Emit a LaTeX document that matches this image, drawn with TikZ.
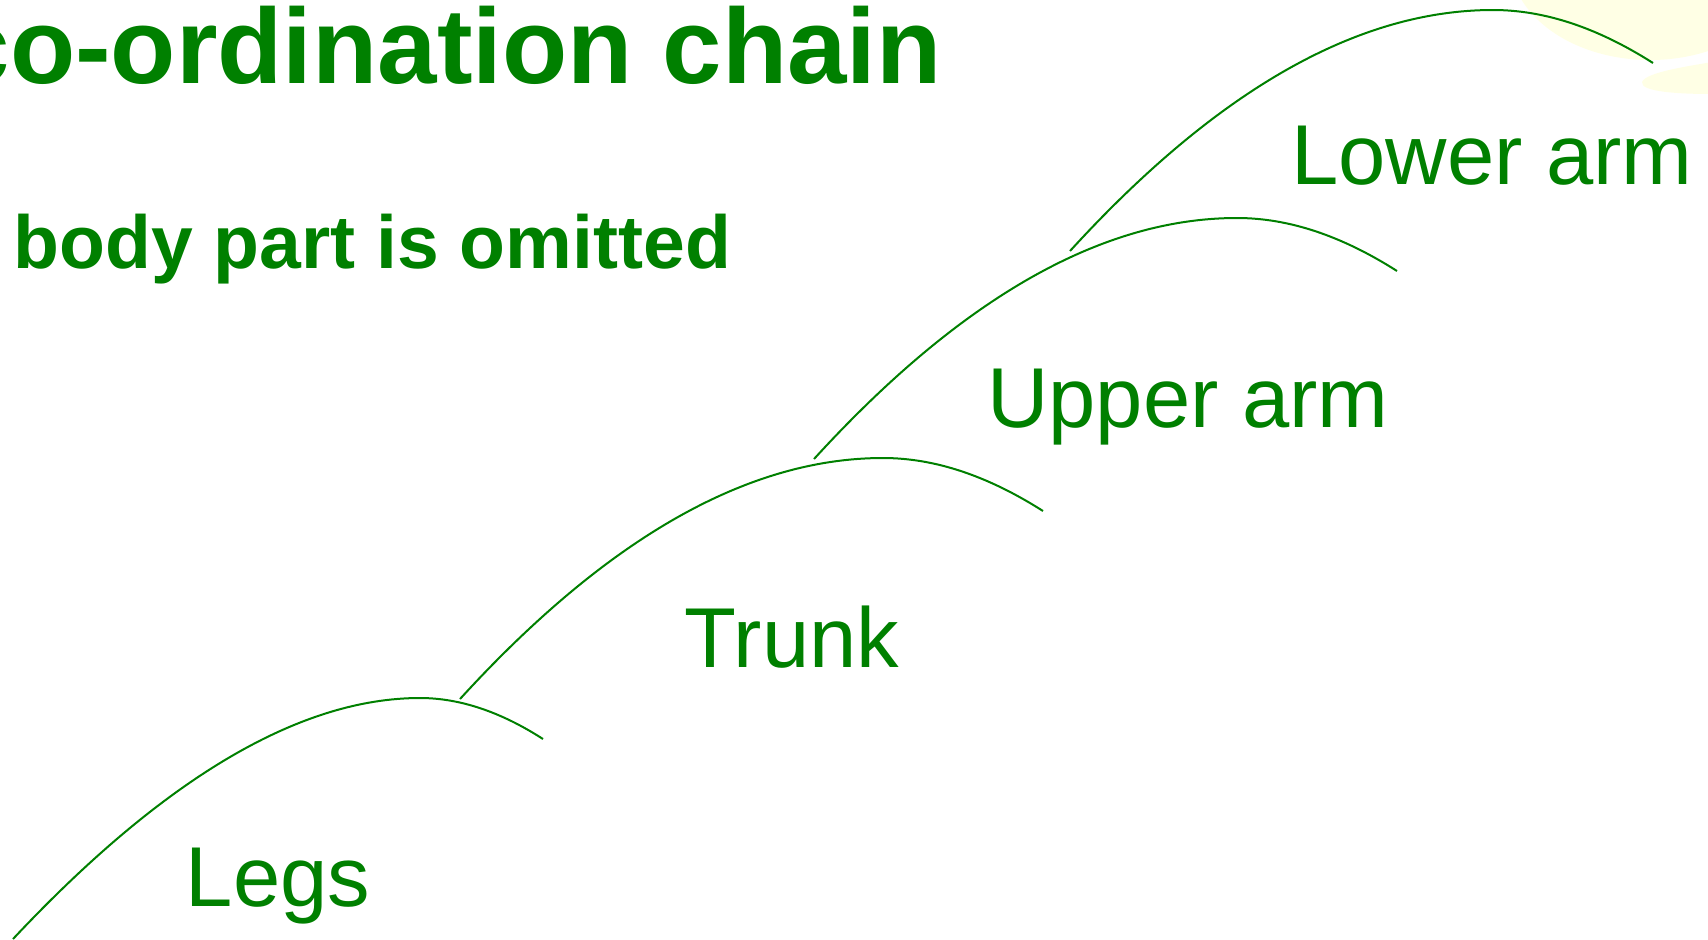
\documentclass[tikz,border=0pt]{standalone}
\usepackage{fontspec}
\setmainfont{Liberation Sans}
\definecolor{chaingreen}{RGB}{0,128,0}
\definecolor{paleyellow}{RGB}{255,255,229}
\begin{document}
\begin{tikzpicture}[x=0.5pt,y=-0.5pt,
  headline/.style={inner sep=0pt,text=chaingreen,font=\bfseries\fontsize{53.4}{60}\selectfont},
  subline/.style={inner sep=0pt,text=chaingreen,font=\bfseries\fontsize{37.55}{44}\selectfont},
  partlabel/.style={inner sep=0pt,anchor=base,text=chaingreen,font=\fontsize{42.5}{50}\selectfont},
  link/.style={draw=chaingreen,line width=1pt}]
\useasboundingbox (0,0) rectangle (1708,939);
\clip (0,0) rectangle (1708,939);
\fill[white] (0,0) rectangle (1708,939);

% pale background blobs, top right
\fill[paleyellow] (1650,-40) ellipse [x radius=70pt,y radius=50pt];
\fill[paleyellow] (1642,82) .. controls (1646,72) and (1690,66) .. (1712,62)
  -- (1712,94) .. controls (1680,94) and (1640,92) .. cycle;

% headings
\node[headline,anchor=base east] (title) at (942,83) {co-ordination chain};
\node[subline,anchor=base west] (subtitle) at (13,268) {body part is omitted};

% chain links: each arc rises to a peak and falls slightly
\draw[link] (13,939) .. controls (164,778) and (300,698) .. (420,698)
  .. controls (460,698) and (501,712) .. (543,739);
\foreach \px/\py in {883/458,1237/218,1493/10}{
  \draw[link] (\px-423,\py+241) .. controls (\px-276,\py+80) and (\px-135,\py) .. (\px,\py)
    .. controls (\px+52,\py) and (\px+105,\py+18) .. (\px+160,\py+53);
}

% body part labels
\node[partlabel] (legs) at (278,906) {Legs};
\node[partlabel] (trunk) at (792,667) {Trunk};
\node[partlabel] (upperarm) at (1188,427) {Upper arm};
\node[partlabel] (lowerarm) at (1492,184) {Lower arm};
\end{tikzpicture}
\end{document}
